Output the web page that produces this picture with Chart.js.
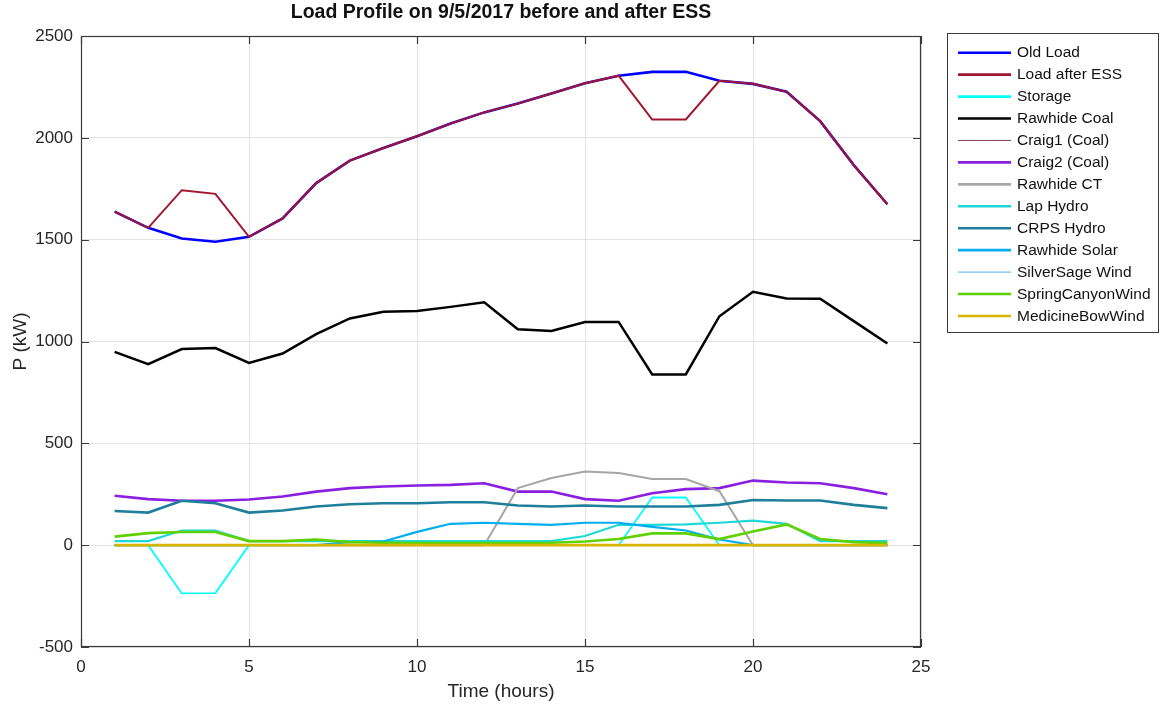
<!DOCTYPE html>
<html>
<head>
<meta charset="utf-8">
<script src="https://cdn.jsdelivr.net/npm/chart.js@4.4.1/dist/chart.umd.min.js"></script>
<style>
  html, body { margin: 0; padding: 0; background: #ffffff; }
  #wrap { width: 1161px; height: 710px; }
</style>
</head>
<body>
<div id="wrap"><canvas id="c" width="1161" height="710"></canvas></div>
<script>
// Hour of day
const hours = [1, 2, 3, 4, 5, 6, 7, 8, 9, 10, 11, 12, 13, 14, 15, 16, 17, 18, 19, 20, 21, 22, 23, 24];

// Power per source, kW
const oldLoad        = [1638, 1558, 1506, 1490, 1514, 1604, 1778, 1888, 1950, 2008, 2070, 2125, 2168, 2218, 2268, 2305, 2324, 2324, 2280, 2265, 2226, 2082, 1866, 1674];
const loadAfterESS   = [1638, 1558, 1743, 1725, 1514, 1604, 1778, 1888, 1950, 2008, 2070, 2125, 2168, 2218, 2268, 2305, 2090, 2090, 2280, 2265, 2226, 2082, 1866, 1674];
const storage        = [0, 0, -237, -235, 0, 0, 0, 0, 0, 0, 0, 0, 0, 0, 0, 0, 234, 234, 0, 0, 0, 0, 0, 0];
const rawhideCoal    = [949, 889, 963, 968, 895, 941, 1036, 1113, 1146, 1150, 1170, 1193, 1060, 1052, 1096, 1096, 838, 838, 1124, 1244, 1211, 1210, 1100, 990];
const craig1         = [0, 0, 0, 0, 0, 0, 0, 0, 0, 0, 0, 0, 0, 0, 0, 0, 0, 0, 0, 0, 0, 0, 0, 0];
const craig2         = [243, 226, 218, 218, 224, 239, 263, 280, 288, 293, 296, 304, 263, 263, 226, 218, 255, 275, 280, 317, 308, 304, 280, 250];
const rawhideCT      = [0, 0, 0, 0, 0, 0, 0, 0, 0, 0, 0, 0, 280, 330, 362, 354, 325, 325, 265, 0, 0, 0, 0, 0];
const lapHydro       = [20, 20, 72, 72, 20, 20, 20, 20, 20, 20, 20, 20, 20, 20, 45, 100, 100, 102, 110, 120, 105, 20, 20, 20];
const crpsHydro      = [168, 160, 218, 206, 160, 170, 190, 201, 206, 206, 211, 211, 195, 190, 195, 190, 190, 190, 198, 222, 219, 219, 198, 182];
const rawhideSolar   = [0, 0, 0, 0, 0, 0, 0, 15, 18, 65, 105, 110, 105, 100, 110, 110, 90, 72, 28, 0, 0, 0, 0, 0];
const silverSage     = [0, 0, 0, 0, 0, 0, 0, 0, 0, 0, 0, 0, 0, 0, 0, 0, 0, 0, 0, 0, 0, 0, 0, 0];
const springCanyon   = [42, 59, 65, 65, 20, 20, 28, 15, 12, 10, 10, 10, 10, 12, 18, 30, 58, 58, 30, 67, 102, 30, 15, 10];
const medicineBow    = [0, 0, 0, 0, 0, 0, 0, 0, 0, 0, 0, 0, 0, 0, 0, 0, 0, 0, 0, 0, 0, 0, 0, 0];

// Axis ticks
const xTicks = [0, 5, 10, 15, 20, 25];
const yTicks = [-500, 0, 500, 1000, 1500, 2000, 2500];

const FONT = '"Liberation Sans", Arial, Helvetica, sans-serif';
const INK = '#262626';

const series = [
  { label: 'Old Load',         data: oldLoad,      color: '#0000ff', width: 2.6 },
  { label: 'Load after ESS',   data: loadAfterESS, color: '#a2142f', width: 2.0 },
  { label: 'Storage',          data: storage,      color: '#00ffff', width: 1.8 },
  { label: 'Rawhide Coal',     data: rawhideCoal,  color: '#000000', width: 2.5 },
  { label: 'Craig1 (Coal)',    data: craig1,       color: '#7e3f50', width: 1.0 },
  { label: 'Craig2 (Coal)',    data: craig2,       color: '#8a1fe0', width: 2.6 },
  { label: 'Rawhide CT',       data: rawhideCT,    color: '#a6a6a6', width: 2.0 },
  { label: 'Lap Hydro',        data: lapHydro,     color: '#1ed8d8', width: 2.2 },
  { label: 'CRPS Hydro',       data: crpsHydro,    color: '#1f7f9a', width: 2.6 },
  { label: 'Rawhide Solar',    data: rawhideSolar, color: '#00aeef', width: 2.2 },
  { label: 'SilverSage Wind',  data: silverSage,   color: '#4db3ff', width: 1.0 },
  { label: 'SpringCanyonWind', data: springCanyon, color: '#5fd000', width: 2.6 },
  { label: 'MedicineBowWind',  data: medicineBow,  color: '#d9b400', width: 2.6 }
];

const N = series.length;
const datasets = series.map((s, i) => ({
  label: s.label,
  data: hours.map((h, k) => ({ x: h, y: s.data[k] })),
  borderColor: s.color,
  backgroundColor: s.color,
  borderWidth: s.width,
  pointRadius: 0,
  pointHoverRadius: 0,
  tension: 0,
  fill: false,
  // later series sit on top of earlier ones
  order: N - 1 - i
}));

// Box around the plot area with inward tick marks on all four sides
const axesBox = {
  id: 'axesBox',
  afterDraw(chart) {
    const { ctx, chartArea: a, scales } = chart;
    ctx.save();
    ctx.strokeStyle = '#3a3a3a';
    ctx.lineWidth = 1.2;
    ctx.strokeRect(a.left + 0.5, a.top + 0.5, a.right - a.left - 1, a.bottom - a.top - 1);
    const tl = 8;
    ctx.beginPath();
    xTicks.forEach(v => {
      const x = Math.round(scales.x.getPixelForValue(v)) + 0.5;
      ctx.moveTo(x, a.bottom); ctx.lineTo(x, a.bottom - tl);
      ctx.moveTo(x, a.top); ctx.lineTo(x, a.top + tl);
    });
    yTicks.forEach(v => {
      const y = Math.round(scales.y.getPixelForValue(v)) + 0.5;
      ctx.moveTo(a.left, y); ctx.lineTo(a.left + tl, y);
      ctx.moveTo(a.right, y); ctx.lineTo(a.right - tl, y);
    });
    ctx.stroke();
    ctx.restore();
  }
};

// Boxed legend to the right of the axes
const boxedLegend = {
  id: 'boxedLegend',
  afterDraw(chart) {
    const { ctx } = chart;
    const bx = 947, by = 33, bw = 211, bh = 299;
    ctx.save();
    ctx.fillStyle = '#ffffff';
    ctx.fillRect(bx, by, bw, bh);
    ctx.strokeStyle = '#3a3a3a';
    ctx.lineWidth = 1;
    ctx.strokeRect(bx + 0.5, by + 0.5, bw, bh);
    ctx.font = '15.5px ' + FONT;
    ctx.textBaseline = 'middle';
    ctx.textAlign = 'left';
    chart.data.datasets.forEach((d, i) => {
      const y = 52.7 + i * 21.94;
      ctx.strokeStyle = d.borderColor;
      ctx.lineWidth = d.borderWidth <= 1 ? 1 : 2.6;
      ctx.beginPath();
      ctx.moveTo(958, y);
      ctx.lineTo(1011, y);
      ctx.stroke();
      ctx.fillStyle = '#111111';
      ctx.fillText(d.label, 1017, y + 0.5);
    });
    ctx.restore();
  }
};

new Chart(document.getElementById('c'), {
  type: 'line',
  data: { datasets },
  options: {
    responsive: false,
    devicePixelRatio: 1,
    animation: false,
    events: [],
    layout: { padding: { left: 0, right: 240, top: 0, bottom: 0 } },
    plugins: {
      legend: { display: false },
      tooltip: { enabled: false },
      title: {
        display: true,
        fullSize: false,
        text: 'Load Profile on 9/5/2017 before and after ESS',
        color: '#111111',
        font: { family: FONT, size: 19.5, weight: 'bold', lineHeight: 1 },
        padding: { top: 3, bottom: 13.5 }
      }
    },
    scales: {
      x: {
        type: 'linear',
        min: 0,
        max: 25,
        afterBuildTicks(scale) { scale.ticks = xTicks.map(v => ({ value: v })); },
        afterFit(scale) { scale.height = 63; },
        ticks: {
          color: INK,
          font: { family: FONT, size: 17 },
          padding: 10,
          maxRotation: 0,
          callback: v => String(v)
        },
        grid: { color: '#e3e3e3', lineWidth: 1, drawTicks: false },
        border: { display: false },
        title: {
          display: true,
          text: 'Time (hours)',
          color: INK,
          font: { family: FONT, size: 19, lineHeight: 1.2 },
          padding: { top: 0, bottom: 7 }
        }
      },
      y: {
        type: 'linear',
        min: -500,
        max: 2500,
        afterBuildTicks(scale) { scale.ticks = yTicks.map(v => ({ value: v })); },
        afterFit(scale) { scale.width = 81; },
        ticks: {
          color: INK,
          font: { family: FONT, size: 17 },
          padding: 8,
          callback: v => String(v)
        },
        grid: { color: '#e3e3e3', lineWidth: 1, drawTicks: false },
        border: { display: false },
        title: {
          display: true,
          text: 'P (kW)',
          color: INK,
          font: { family: FONT, size: 19, lineHeight: 1.2 },
          padding: { top: 9, bottom: 0 }
        }
      }
    }
  },
  plugins: [axesBox, boxedLegend]
});
</script>
</body>
</html>
